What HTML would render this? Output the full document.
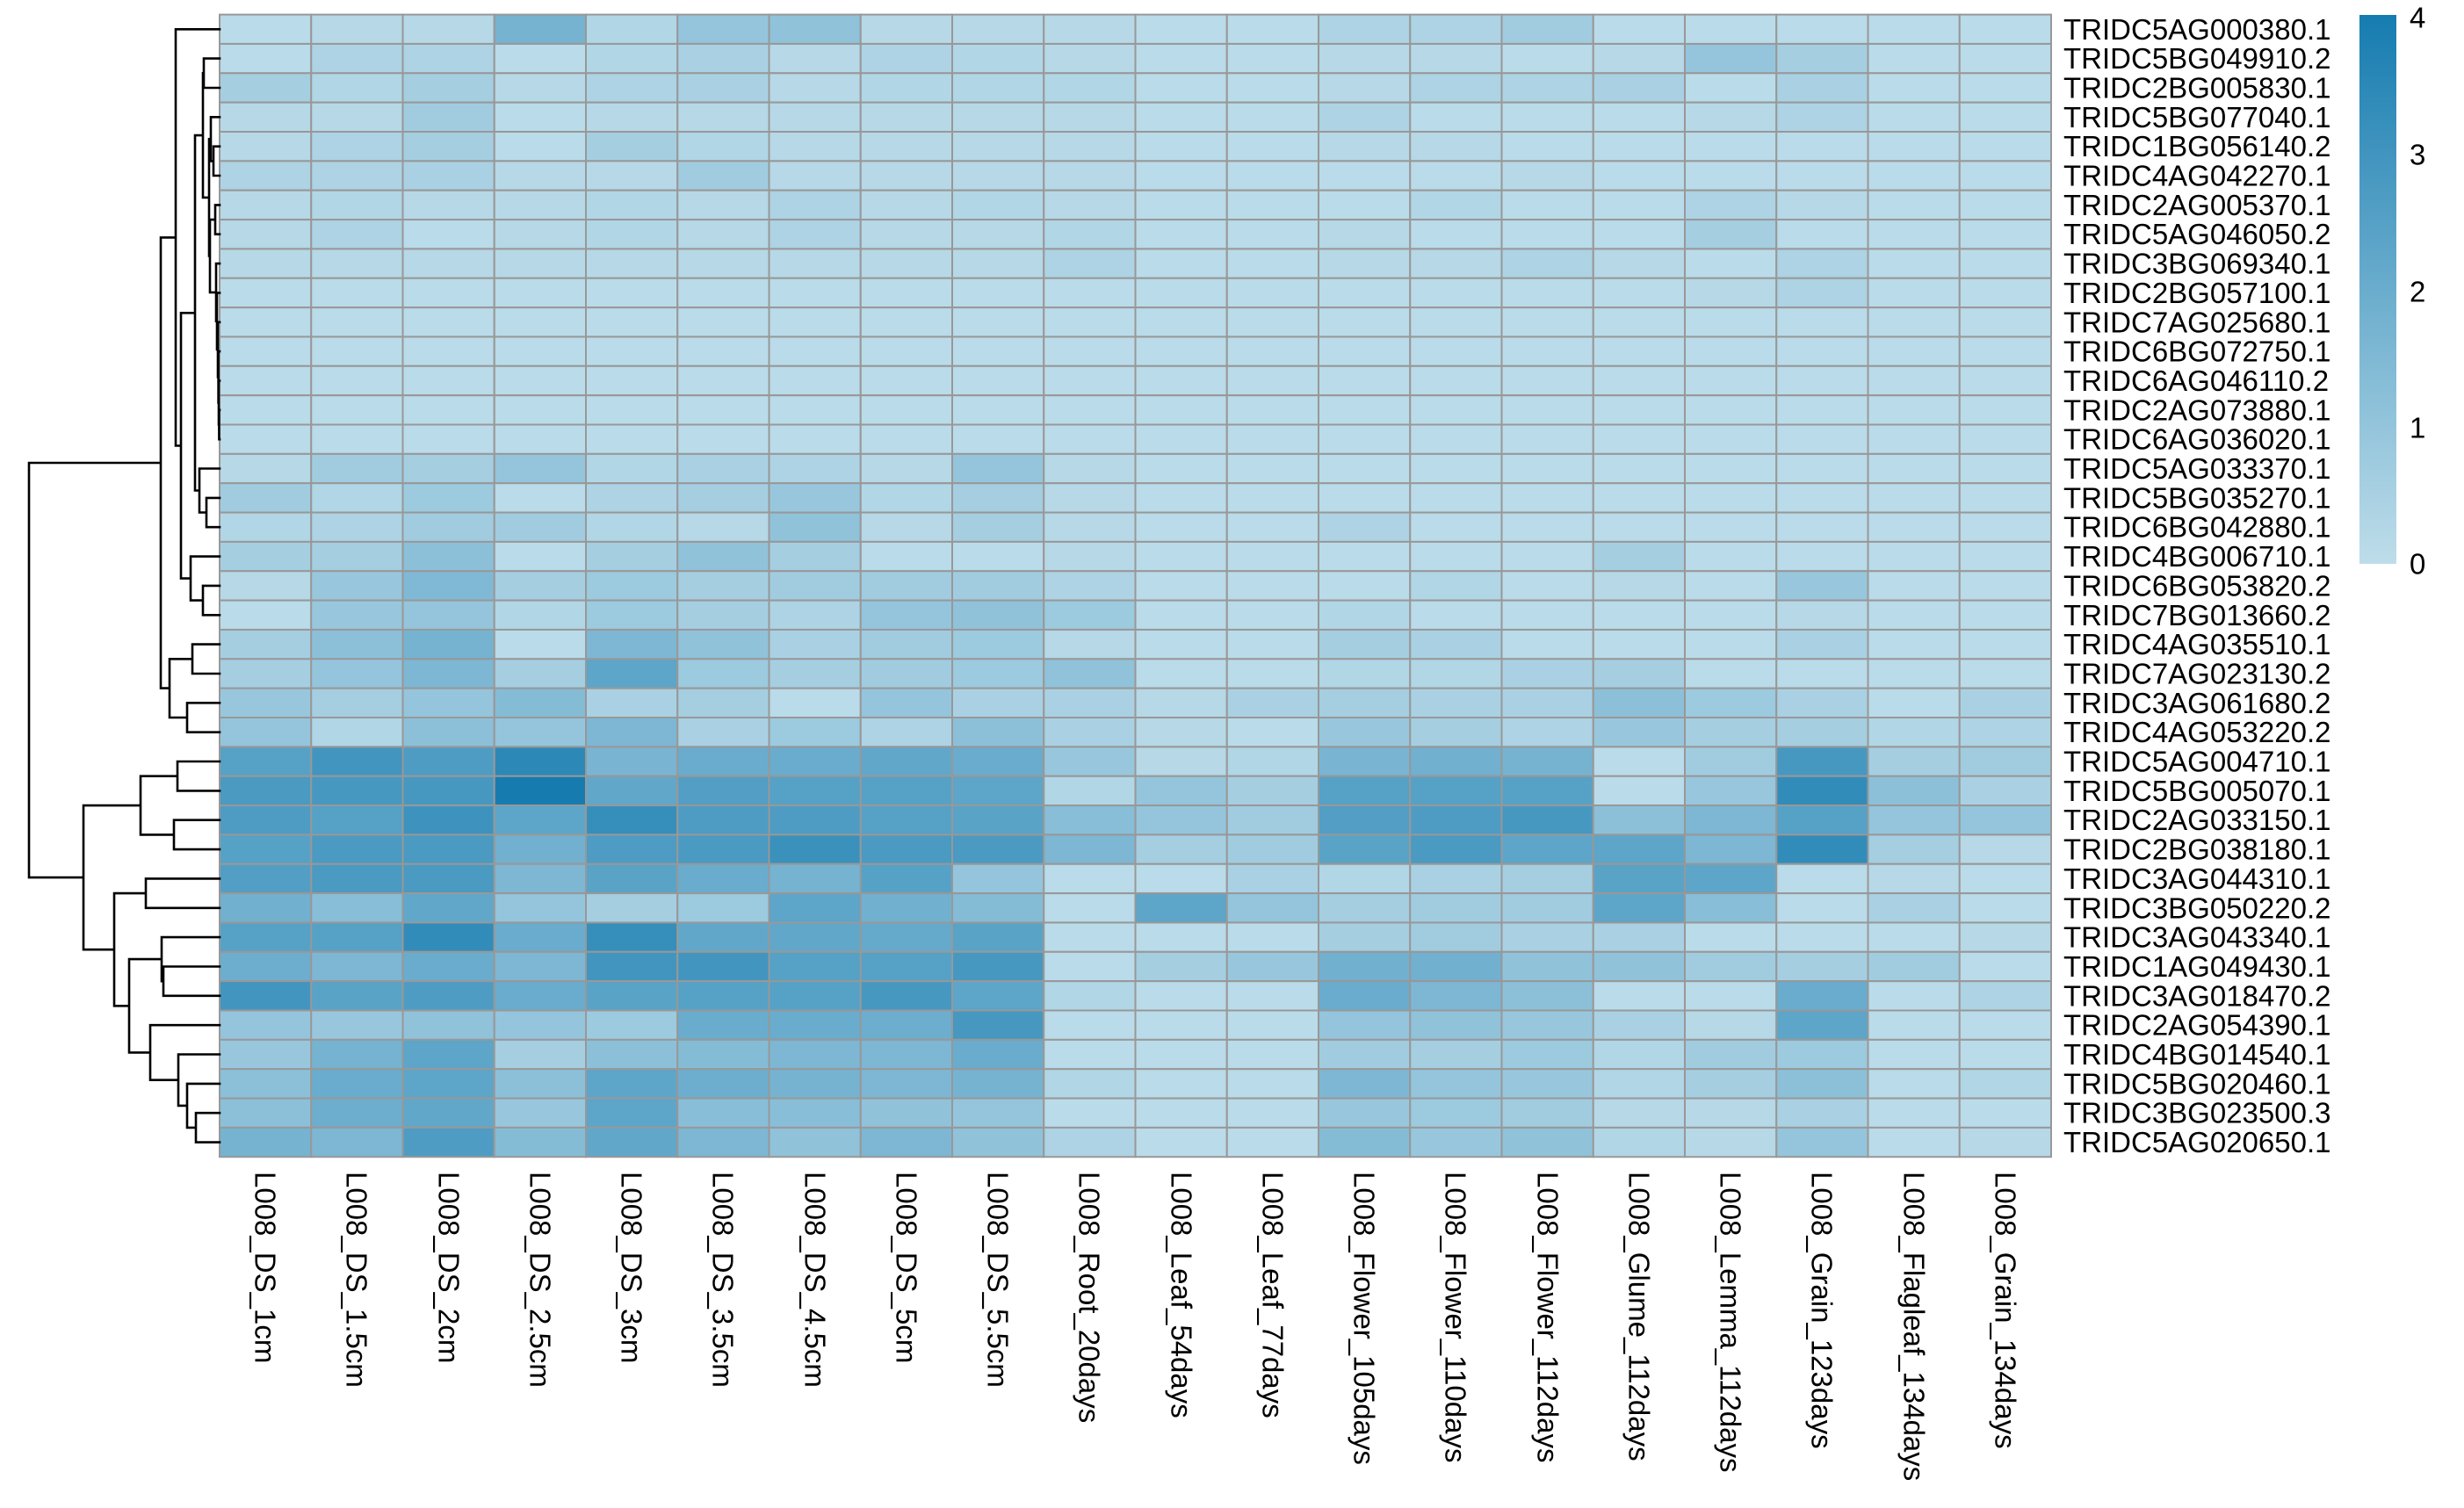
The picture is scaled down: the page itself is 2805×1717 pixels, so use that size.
<!DOCTYPE html>
<html><head><meta charset="utf-8"><style>
html,body{margin:0;padding:0;background:#fff;width:2805px;height:1717px;overflow:hidden}
svg{display:block}
text{font-family:"Liberation Sans",Arial,sans-serif;font-size:33px;fill:#000}
</style></head><body>
<svg id="s" width="2805" height="1717" viewBox="0 0 2805 1717" xmlns="http://www.w3.org/2000/svg">
<defs><linearGradient id="cb" x1="0" y1="1" x2="0" y2="0"><stop offset="0" stop-color="rgb(190,221,234)"/><stop offset="1" stop-color="rgb(22,124,176)"/></linearGradient></defs>
<g id="cells"></g>
<g id="dend" stroke="#000" stroke-width="2.6" fill="none" stroke-linecap="square"></g>
<rect x="2686" y="17" width="42" height="625" fill="url(#cb)"/>
<g dominant-baseline="central">
<text x="2743" y="20">4</text><text x="2743" y="176">3</text><text x="2743" y="332">2</text><text x="2743" y="487">1</text><text x="2743" y="642">0</text>
</g>
<g dominant-baseline="central">
<text x="2349" y="33.3">TRIDC5AG000380.1</text>
<text x="2349" y="66.6">TRIDC5BG049910.2</text>
<text x="2349" y="100.0">TRIDC2BG005830.1</text>
<text x="2349" y="133.3">TRIDC5BG077040.1</text>
<text x="2349" y="166.7">TRIDC1BG056140.2</text>
<text x="2349" y="200.0">TRIDC4AG042270.1</text>
<text x="2349" y="233.4">TRIDC2AG005370.1</text>
<text x="2349" y="266.7">TRIDC5AG046050.2</text>
<text x="2349" y="300.1">TRIDC3BG069340.1</text>
<text x="2349" y="333.4">TRIDC2BG057100.1</text>
<text x="2349" y="366.8">TRIDC7AG025680.1</text>
<text x="2349" y="400.1">TRIDC6BG072750.1</text>
<text x="2349" y="433.5">TRIDC6AG046110.2</text>
<text x="2349" y="466.8">TRIDC2AG073880.1</text>
<text x="2349" y="500.2">TRIDC6AG036020.1</text>
<text x="2349" y="533.5">TRIDC5AG033370.1</text>
<text x="2349" y="566.9">TRIDC5BG035270.1</text>
<text x="2349" y="600.2">TRIDC6BG042880.1</text>
<text x="2349" y="633.6">TRIDC4BG006710.1</text>
<text x="2349" y="666.9">TRIDC6BG053820.2</text>
<text x="2349" y="700.3">TRIDC7BG013660.2</text>
<text x="2349" y="733.6">TRIDC4AG035510.1</text>
<text x="2349" y="767.0">TRIDC7AG023130.2</text>
<text x="2349" y="800.3">TRIDC3AG061680.2</text>
<text x="2349" y="833.7">TRIDC4AG053220.2</text>
<text x="2349" y="867.0">TRIDC5AG004710.1</text>
<text x="2349" y="900.4">TRIDC5BG005070.1</text>
<text x="2349" y="933.7">TRIDC2AG033150.1</text>
<text x="2349" y="967.1">TRIDC2BG038180.1</text>
<text x="2349" y="1000.4">TRIDC3AG044310.1</text>
<text x="2349" y="1033.8">TRIDC3BG050220.2</text>
<text x="2349" y="1067.1">TRIDC3AG043340.1</text>
<text x="2349" y="1100.5">TRIDC1AG049430.1</text>
<text x="2349" y="1133.8">TRIDC3AG018470.2</text>
<text x="2349" y="1167.2">TRIDC2AG054390.1</text>
<text x="2349" y="1200.5">TRIDC4BG014540.1</text>
<text x="2349" y="1233.9">TRIDC5BG020460.1</text>
<text x="2349" y="1267.2">TRIDC3BG023500.3</text>
<text x="2349" y="1300.6">TRIDC5AG020650.1</text>
</g>
<g dominant-baseline="central">
<text transform="translate(302,1334) rotate(90)">L008_DS_1cm</text>
<text transform="translate(406,1334) rotate(90)">L008_DS_1.5cm</text>
<text transform="translate(511,1334) rotate(90)">L008_DS_2cm</text>
<text transform="translate(615,1334) rotate(90)">L008_DS_2.5cm</text>
<text transform="translate(719,1334) rotate(90)">L008_DS_3cm</text>
<text transform="translate(823,1334) rotate(90)">L008_DS_3.5cm</text>
<text transform="translate(928,1334) rotate(90)">L008_DS_4.5cm</text>
<text transform="translate(1032,1334) rotate(90)">L008_DS_5cm</text>
<text transform="translate(1136,1334) rotate(90)">L008_DS_5.5cm</text>
<text transform="translate(1240,1334) rotate(90)">L008_Root_20days</text>
<text transform="translate(1345,1334) rotate(90)">L008_Leaf_54days</text>
<text transform="translate(1449,1334) rotate(90)">L008_Leaf_77days</text>
<text transform="translate(1553,1334) rotate(90)">L008_Flower_105days</text>
<text transform="translate(1657,1334) rotate(90)">L008_Flower_110days</text>
<text transform="translate(1762,1334) rotate(90)">L008_Flower_112days</text>
<text transform="translate(1866,1334) rotate(90)">L008_Glume_112days</text>
<text transform="translate(1970,1334) rotate(90)">L008_Lemma_112days</text>
<text transform="translate(2074,1334) rotate(90)">L008_Grain_123days</text>
<text transform="translate(2179,1334) rotate(90)">L008_Flagleaf_134days</text>
<text transform="translate(2283,1334) rotate(90)">L008_Grain_134days</text>
</g>
</svg>
<script>
var D=[
[.1,.2,.2,1.8,.3,1.0,1.1,.2,.2,.2, .1,.1,.4,.4,.7,.1,.1,.1,.1,.1],
[.1,.4,.4,.1,.3,.5,.2,.4,.3,.2, .1,.1,.2,.2,.1,.2,1.0,.6,.1,.1],
[.6,.3,.6,.2,.4,.5,.2,.3,.3,.3, .1,.1,.2,.4,.4,.5,.1,.5,.1,.1],
[.2,.2,.7,.1,.2,.2,.2,.2,.2,.2, .1,.1,.4,.1,.1,.1,.2,.4,.1,.1],
[.2,.4,.6,.1,.6,.3,.2,.2,.2,.2, .1,.1,.2,.2,.1,.1,.1,.1,.1,.1],
[.4,.4,.5,.2,.2,.7,.2,.2,.2,.2, .1,.1,.1,.1,.2,.1,.1,.1,.1,.1],
[.2,.3,.2,.2,.3,.2,.4,.2,.3,.2, .1,.1,.1,.3,.1,.1,.4,.2,.1,.1],
[.2,.4,.1,.2,.3,.2,.4,.2,.2,.3, .1,.1,.2,.1,.1,.1,.6,.1,.1,.1],
[.2,.2,.2,.2,.2,.2,.2,.2,.2,.4, .1,.1,.2,.2,.4,.2,.1,.4,.1,.1],
[.1,.1,.1,.1,.1,.1,.1,.1,.1,.1, .1,.1,.1,.1,.1,.1,.2,.4,.1,.1],
[.1,.1,.1,.1,.1,.1,.1,.1,.1,.1, .1,.1,.1,.1,.1,.1,.1,.1,.1,.1],
[.1,.1,.1,.1,.1,.1,.1,.1,.1,.1, .1,.1,.1,.1,.1,.1,.1,.1,.1,.1],
[.1,.1,.1,.1,.1,.1,.1,.1,.1,.1, .1,.1,.1,.1,.1,.1,.1,.1,.1,.1],
[.1,.1,.1,.1,.1,.1,.1,.1,.1,.1, .1,.1,.1,.1,.1,.1,.1,.1,.1,.1],
[.1,.1,.1,.1,.1,.1,.1,.1,.1,.1, .1,.1,.1,.1,.1,.1,.1,.1,.1,.1],
[.2,.7,.6,1.0,.3,.5,.4,.2,1.0,.2, .1,.1,.1,.1,.1,.1,.1,.1,.1,.1],
[.7,.3,.8,.1,.4,.6,.9,.3,.6,.2, .1,.1,.1,.1,.1,.1,.1,.1,.1,.1],
[.3,.4,.7,.7,.3,.2,1.1,.2,.6,.2, .1,.1,.4,.1,.1,.1,.1,.1,.1,.1],
[.6,.6,1.2,.1,.6,1.1,.6,.1,.1,.2, .1,.1,.1,.1,.1,.6,.1,.1,.1,.1],
[.2,.9,1.5,.6,.8,.6,.7,.7,.7,.4, .1,.1,.1,.3,.1,.2,.1,.9,.1,.1],
[.1,.9,1.0,.3,.8,.6,.4,1.0,1.1,.8, .1,.1,.3,.1,.1,.1,.1,.2,.1,.1],
[.6,1.2,1.8,.1,1.6,1.1,.5,.7,.8,.2, .1,.1,.6,.5,.1,.1,.1,.5,.1,.1],
[.6,1.0,1.6,.6,2.4,.8,.6,.7,.8,1.1, .1,.1,.3,.3,.5,.6,.1,.1,.1,.1],
[.9,.6,1.0,1.4,.5,.6,.1,1.0,.5,.5, .2,.5,.6,.5,.5,1.2,.8,.5,.1,.5],
[1.0,.3,1.2,1.0,1.6,.5,.8,.4,1.2,.5, .2,.1,.9,.6,.4,.9,.6,.6,.3,.4],
[2.6,3.1,2.8,3.7,1.7,2.1,2.1,2.3,2.1,.9, .2,.3,1.7,1.9,1.8,.1,.7,3.0,.6,.7],
[2.9,3.0,3.0,4.0,2.3,2.7,2.6,2.6,2.4,.3, 1.0,.6,2.6,2.6,2.6,.1,.9,3.5,1.2,.5],
[2.8,2.6,3.2,2.4,3.4,2.8,2.8,2.6,2.5,1.3, 1.0,.7,2.7,2.8,3.0,1.2,1.6,2.6,1.0,1.0],
[2.6,2.9,2.9,1.9,2.8,2.9,3.3,2.9,2.9,1.6, .6,.7,2.5,2.9,2.4,2.4,1.6,3.5,.6,.2],
[2.7,2.9,2.9,1.6,2.5,2.1,1.8,2.6,1.0,.1, .1,.5,.3,.5,.6,2.5,2.4,.1,.2,.1],
[1.9,1.3,2.3,1.0,.6,.8,2.4,1.9,1.4,.1, 2.4,1.0,.6,.7,.7,2.4,1.3,.1,.5,.1],
[2.6,2.6,3.5,2.1,3.4,2.3,2.3,2.2,2.5,.1, .1,.1,.6,.7,.5,.5,.1,.1,.1,.2],
[2.0,1.6,2.1,1.6,3.1,3.1,2.6,2.6,3.0,.1, .6,.9,1.9,1.9,1.1,1.1,.7,.6,.7,.1],
[3.1,2.5,2.8,2.1,2.5,2.6,2.6,3.0,2.4,.3, .1,.1,2.1,1.6,1.2,.1,.1,2.1,.1,.4],
[1.0,.9,1.1,1.0,.8,2.1,2.1,2.0,3.0,.1, .1,.1,1.0,1.1,.9,.5,.2,2.4,.1,.1],
[.9,1.8,2.4,.6,1.2,1.4,1.6,1.6,2.1,.1, .1,.1,.7,.6,.8,.3,.7,.8,.1,.1],
[1.2,2.1,2.4,1.2,2.4,2.0,1.8,1.6,1.8,.3, .1,.1,1.6,1.0,.9,.3,.6,1.2,.1,.3],
[1.2,2.0,2.3,.9,2.4,1.3,1.3,1.1,1.0,.1, .1,.1,.9,.8,.7,.2,.2,.5,.1,.1],
[1.8,1.6,2.8,1.4,2.3,1.6,1.1,1.6,1.1,.4, .1,.1,1.4,.9,1.1,.3,.2,1.0,.1,.2]];
var X0=250,Y0=16.6,CW=(2335-250)/20,RH=33.35;
function col(v){if(v>1&&v<3.9)v=1+(v-1)*0.93;var t=Math.max(0,Math.min(1,v/4));var a=[190,221,234],b=[22,124,176];
return "rgb("+a.map(function(x,i){return Math.round(x+(b[i]-x)*t)}).join(",")+")";}
var g=document.getElementById("cells"),h="";
for(var r=0;r<39;r++)for(var c=0;c<20;c++){
h+='<rect x="'+(X0+c*CW).toFixed(2)+'" y="'+(Y0+r*RH).toFixed(2)+'" width="'+CW.toFixed(2)+'" height="'+RH.toFixed(2)+'" fill="'+col(D[r][c])+'" stroke="#989898" stroke-width="2"/>';}
g.innerHTML=h;
function N(x,a,b){return {x:x,a:a,b:b};}
var n9=N(246,9,N(247,10,N(248,11,N(248.6,12,N(249,13,N(249.4,14,15))))));
var n2_15=N(231,N(232,2,3),N(238,N(240,4,N(243,5,6)),N(239,N(245,7,8),n9)));
var n2_18=N(222,n2_15,N(227,16,N(235,17,18)));
var n1_21=N(200,1,N(206,n2_18,N(217,19,N(231,20,21))));
var top_=N(183,n1_21,N(193,N(219,22,23),N(213,24,25)));
var bot=N(95,N(160,N(202,26,27),N(198,28,29)),
 N(130,N(166,30,31),N(147,N(184,32,N(186,33,34)),N(171,35,N(203,36,N(213,37,N(223,38,39)))))));
var root=N(33,top_,bot);
var p="";
function pos(n){if(typeof n==="number")return {x:X0,y:Y0+(n-0.5)*RH};
var A=pos(n.a),B=pos(n.b);
p+="M"+A.x+" "+A.y.toFixed(1)+"H"+n.x+"V"+B.y.toFixed(1)+"H"+B.x;
return {x:n.x,y:(A.y+B.y)/2};}
pos(root);
document.getElementById("dend").innerHTML='<path d="'+p+'"/>';
</script>
</body></html>
